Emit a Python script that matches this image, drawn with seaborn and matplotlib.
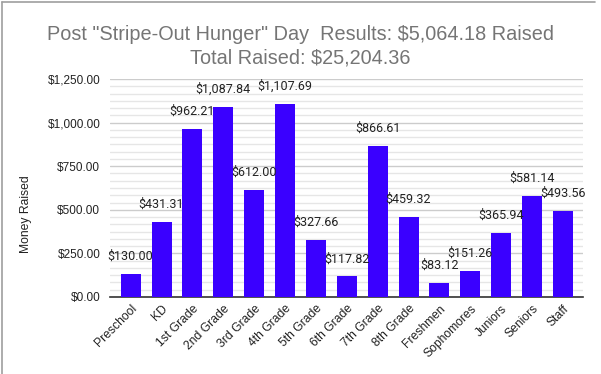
from matplotlib import pyplot as plt
from matplotlib.ticker import MultipleLocator, FuncFormatter
import seaborn as sns
import pandas as pd

# data
groups = ['Preschool', 'KD', '1st Grade', '2nd Grade', '3rd Grade', '4th Grade',
          '5th Grade', '6th Grade', '7th Grade', '8th Grade', 'Freshmen',
          'Sophomores', 'Juniors', 'Seniors', 'Staff']
raised = [130.00, 431.31, 962.21, 1087.84, 612.00, 1107.69, 327.66, 117.82,
          866.61, 459.32, 83.12, 151.26, 365.94, 581.14, 493.56]
title_line1 = 'Post "Stripe-Out Hunger" Day  Results: $5,064.18 Raised'
title_line2 = 'Total Raised: $25,204.36'

sns.set_style('white')
plt.rcParams['font.family'] = ['Liberation Sans', 'DejaVu Sans']

df = pd.DataFrame({'group': groups, 'raised': raised})

fig = plt.figure(figsize=(6.01, 3.74), dpi=100)
ax = fig.add_axes([110/601, 1-297/374, 473/601, 218/374])

sns.barplot(data=df, x='group', y='raised', color='#3a00ff', saturation=1,
            width=0.65, ax=ax, zorder=3, edgecolor='none')

ax.set_ylim(0, 1250)
ax.set_xlim(-0.67, 14.65)
ax.yaxis.set_major_locator(MultipleLocator(250))
ax.yaxis.set_minor_locator(MultipleLocator(250/6))
ax.yaxis.set_major_formatter(FuncFormatter(lambda v, p: '${:,.2f}'.format(v)))
ax.grid(axis='y', which='major', color='#cccccc', lw=1, zorder=0)
ax.grid(axis='y', which='minor', color='#e6e6e6', lw=1, zorder=0)
ax.set_axisbelow(True)
for s in ['left', 'right', 'top']:
    ax.spines[s].set_visible(False)
ax.spines['bottom'].set_color('#333333')
ax.spines['bottom'].set_linewidth(1.2)
ax.tick_params(axis='y', which='both', length=0, pad=7, labelsize=8.5, labelcolor='#222222')
ax.tick_params(axis='x', length=0, pad=4, labelsize=8.7, labelcolor='#222222')
plt.setp(ax.get_xticklabels(), rotation=45, ha='right', rotation_mode='anchor')

ax.set_xlabel('')
ax.set_ylabel('Money Raised', fontsize=8.7, color='#222222')
ax.yaxis.set_label_coords(-0.165, 0.38)

ax.bar_label(ax.containers[0], labels=['${:,.2f}'.format(v) for v in raised],
             padding=8, fontsize=9, color='#222222', family='Roboto')

fig.text(0.5, 1-34/374, title_line1, ha='center', va='center', fontsize=14.3, color='#757575')
fig.text(0.5, 1-58/374, title_line2, ha='center', va='center', fontsize=14.3, color='#757575')

# chart frame
fig.add_artist(plt.Line2D([2/601, 2/601], [0, 1-2/374], color='#9e9e9e', lw=1.2))
fig.add_artist(plt.Line2D([2/601, 595/601], [1-2/374, 1-2/374], color='#9e9e9e', lw=1.2))

fig.savefig('out.png', dpi=100)
